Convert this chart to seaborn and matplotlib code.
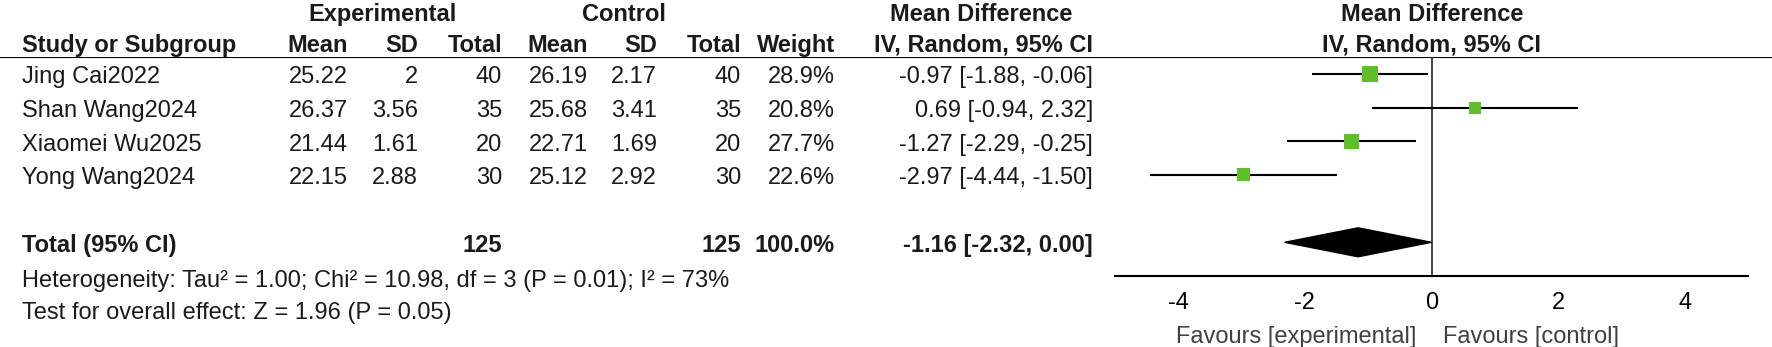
import matplotlib
matplotlib.use("Agg")
import matplotlib.pyplot as plt
import pandas as pd
import seaborn as sns

# study data
studies = ["Jing Cai2022", "Shan Wang2024", "Xiaomei Wu2025", "Yong Wang2024"]
exp_mean = [25.22, 26.37, 21.44, 22.15]
exp_sd = [2, 3.56, 1.61, 2.88]
exp_n = [40, 35, 20, 30]
ctl_mean = [26.19, 25.68, 22.71, 25.12]
ctl_sd = [2.17, 3.41, 1.69, 2.92]
ctl_n = [40, 35, 20, 30]
weights = [28.9, 20.8, 27.7, 22.6]
md = [-0.97, 0.69, -1.27, -2.97]
md_lo = [-1.88, -0.94, -2.29, -4.44]
md_hi = [-0.06, 2.32, -0.25, -1.50]

# pooled result
total_exp_n = 125
total_ctl_n = 125
total_md, total_lo, total_hi = -1.16, -2.32, 0.00
heterogeneity = "Heterogeneity: Tau\u00b2 = 1.00; Chi\u00b2 = 10.98, df = 3 (P = 0.01); I\u00b2 = 73%"
overall = "Test for overall effect: Z = 1.96 (P = 0.05)"
xticks = [-4, -2, 0, 2, 4]

df = pd.DataFrame({"study": studies, "md": md, "lo": md_lo, "hi": md_hi,
                   "weight": weights, "row": range(len(studies))})

sns.set_style("white")
plt.rcParams["font.family"] = ["Liberation Sans", "DejaVu Sans"]

W, H = 1772, 347
fig = plt.figure(figsize=(W / 100, H / 100), dpi=100)

# forest panel, pixel box 1115..1748 x 57..276
top_px, bot_px = 57, 276
ax = fig.add_axes([1115 / W, (H - bot_px) / H, 633 / W, (bot_px - top_px) / H])
# table panel on the same row scale
tab = fig.add_axes([0, (H - bot_px) / H, 1, (bot_px - top_px) / H], sharey=ax)
tab.set_zorder(0)
ax.set_zorder(1)
ax.patch.set_visible(False)

total_row = 5
ax.set_xlim(-5, 5)
ax.set_ylim(6, -0.5)

# CI lines, squares, diamond
ax.hlines(df["row"], df["lo"], df["hi"], color="black", lw=1.5, zorder=2)
sns.scatterplot(data=df, x="md", y="row", size="weight", sizes=(75, 125),
                marker="s", color="#5fbf2a", linewidth=0, legend=False,
                ax=ax, zorder=3)
h = 0.43
ax.fill([total_lo, total_md, total_hi, total_md],
        [total_row, total_row - h, total_row, total_row + h],
        color="black", zorder=3)
ax.axvline(0, color="#333333", lw=1.3, zorder=1)

for s in ["top", "right", "left"]:
    ax.spines[s].set_visible(False)
ax.spines["bottom"].set_linewidth(1.5)
ax.spines["bottom"].set_color("black")
ax.set_xticks(xticks)
ax.set_xticklabels([str(t) for t in xticks])
ax.tick_params(axis="x", direction="inout", length=11, width=1.5,
               labelsize=17, pad=6, colors="black")
ax.set_yticks([])
ax.set_xlabel("")
ax.set_ylabel("")

# table text
tab.set_xlim(0, W)
tab.axis("off")
tab.axhline(-0.5, color="black", lw=1.5)

fs = 17
txt = "#1a1a1a"
left_x = 22
dy = 0.1
cols = [348, 418, 502, 588, 657, 741, 835, 1093]

def put(x, y, s, ha="right", bold=False, **kw):
    return tab.text(x, y + dy, s, ha=ha, va="center", fontsize=fs, color=txt,
                    fontweight="bold" if bold else "normal", **kw)

hy1, hy2 = -1.85, -0.95
put(383, hy1, "Experimental", ha="center", bold=True)
put(624, hy1, "Control", ha="center", bold=True)
put(981, hy1, "Mean Difference", ha="center", bold=True)
put(1432, hy1, "Mean Difference", ha="center", bold=True)
put(left_x, hy2, "Study or Subgroup", ha="left", bold=True)
for x, lab in zip(cols, ["Mean", "SD", "Total", "Mean", "SD", "Total",
                         "Weight", "IV, Random, 95% CI"]):
    put(x, hy2, lab, bold=True)
put(1432, hy2, "IV, Random, 95% CI", ha="center", bold=True)

for i in range(len(studies)):
    vals = [f"{exp_mean[i]:g}", f"{exp_sd[i]:g}", str(exp_n[i]),
            f"{ctl_mean[i]:g}", f"{ctl_sd[i]:g}", str(ctl_n[i]),
            f"{weights[i]:.1f}%",
            f"{md[i]:.2f} [{md_lo[i]:.2f}, {md_hi[i]:.2f}]"]
    put(left_x, i, studies[i], ha="left")
    for x, v in zip(cols, vals):
        put(x, i, v)

put(left_x, total_row, "Total (95% CI)", ha="left", bold=True)
put(cols[2], total_row, str(total_exp_n), bold=True)
put(cols[5], total_row, str(total_ctl_n), bold=True)
put(cols[6], total_row, "100.0%", bold=True)
put(cols[7], total_row, f"{total_md:.2f} [{total_lo:.2f}, {total_hi:.2f}]", bold=True)
put(left_x, 6.05, heterogeneity, ha="left")
put(left_x, 7.0, overall, ha="left")

fav1 = put(1416, 7.72, "Favours [experimental]", ha="right")
fav2 = put(1443, 7.72, "Favours [control]", ha="left")
fav1.set_color("#404040")
fav2.set_color("#404040")

fig.savefig("out.png", dpi=100)
